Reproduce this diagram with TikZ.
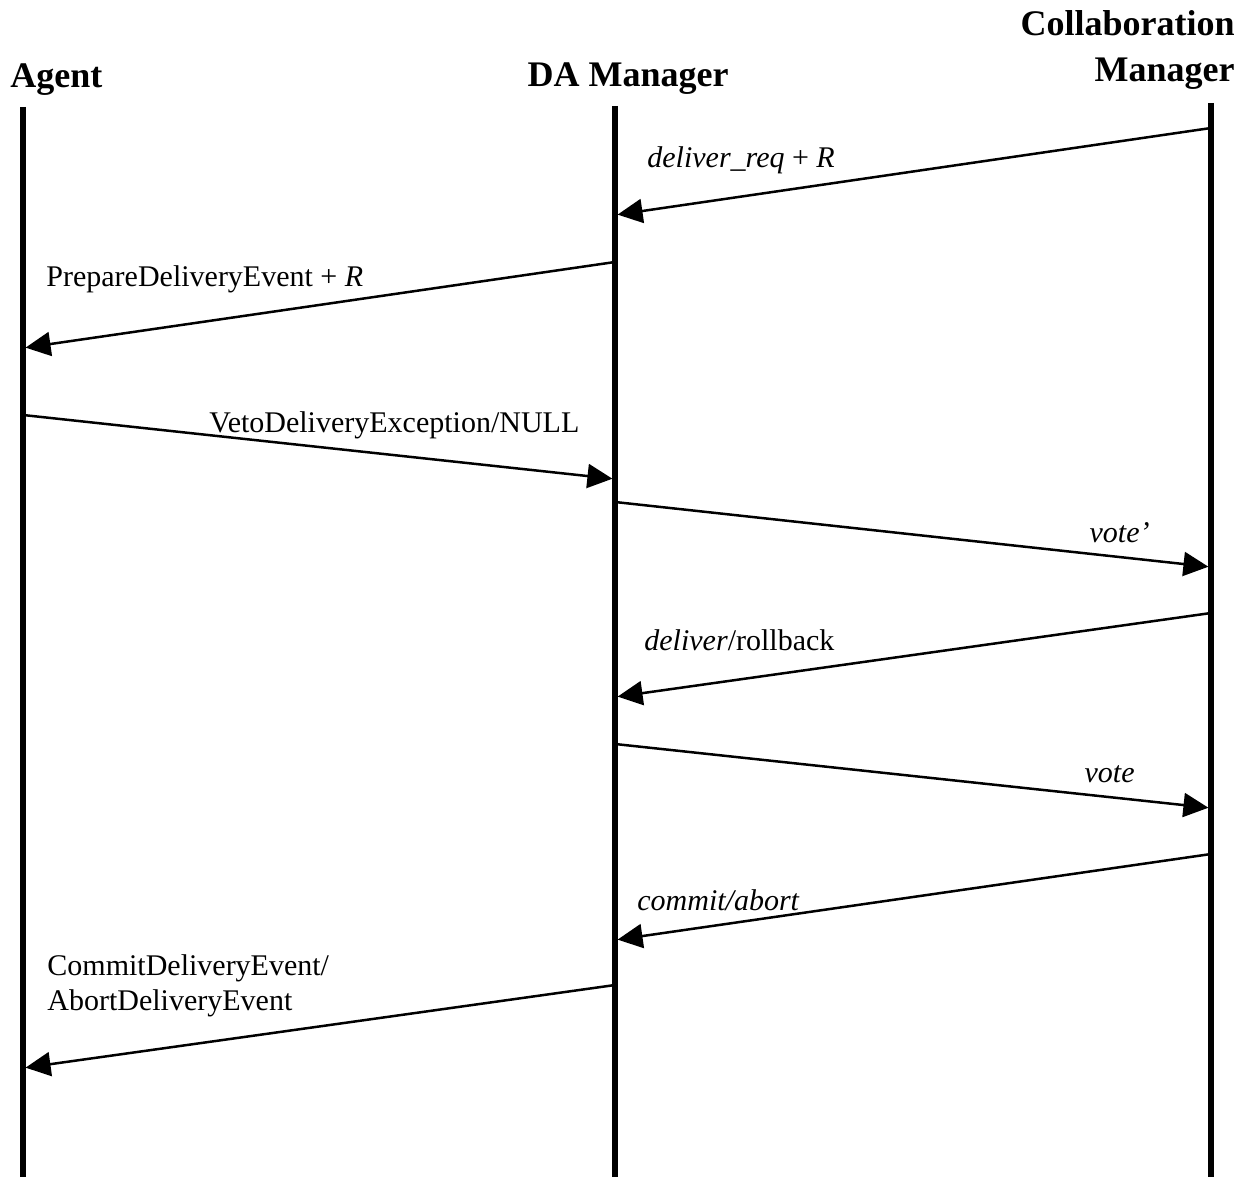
\documentclass[tikz,border=0pt]{standalone}
\usepackage{fontspec}
\setmainfont{Liberation Serif}
\usetikzlibrary{arrows.meta}
\begin{document}
\begin{tikzpicture}[x=0.5pt,y=-0.5pt,
  lifeline/.style={line width=2.7pt},
  msg/.style={line width=1.25pt,-{Triangle[length=12.5pt,width=12pt]},shorten >=1.3pt,shorten <=1.3pt},
  actor/.style={font=\fontsize{18}{21}\selectfont\bfseries,inner sep=0pt},
  lbl/.style={font=\fontsize{15}{17.5}\selectfont,inner sep=0pt}]
\path[use as bounding box] (0,0) rectangle (1252,1177);

% participants
\node[actor,anchor=base west] (agentH) at (10,88) {Agent};
\node[actor,anchor=base] (daH) at (628,87) {DA Manager};
\node[actor,anchor=base east,align=right] (cmH1) at (1235,36) {Collaboration};
\node[actor,anchor=base east] (cmH2) at (1235,82) {Manager};

% lifelines
\coordinate (agT) at (23,107);  \coordinate (agB) at (23,1177);
\coordinate (daT) at (615,106); \coordinate (daB) at (615,1177);
\coordinate (cmT) at (1211,103); \coordinate (cmB) at (1211,1177);
\draw[lifeline] (agT) -- (agB);
\draw[lifeline] (daT) -- (daB);
\draw[lifeline] (cmT) -- (cmB);

% message end points on the lifelines
\coordinate (m1s) at (1211,128); \coordinate (m1e) at (615,215);
\coordinate (m2s) at (615,262);  \coordinate (m2e) at (23,348);
\coordinate (m3s) at (23,415);   \coordinate (m3e) at (615,479);
\coordinate (m4s) at (615,502);  \coordinate (m4e) at (1211,567);
\coordinate (m5s) at (1211,613); \coordinate (m5e) at (615,697);
\coordinate (m6s) at (615,744);  \coordinate (m6e) at (1211,808);
\coordinate (m7s) at (1211,854); \coordinate (m7e) at (615,940);
\coordinate (m8s) at (615,985);  \coordinate (m8e) at (23,1068);

% messages
\draw[msg] (m1s) -- (m1e);
\draw[msg] (m2s) -- (m2e);
\draw[msg] (m3s) -- (m3e);
\draw[msg] (m4s) -- (m4e);
\draw[msg] (m5s) -- (m5e);
\draw[msg] (m6s) -- (m6e);
\draw[msg] (m7s) -- (m7e);
\draw[msg] (m8s) -- (m8e);

% message labels
\node[lbl,anchor=base west] (l1) at (647,167) {\textit{deliver\_req} + \textit{R}};
\node[lbl,anchor=base west] (l2) at (46,286) {PrepareDeliveryEvent + \textit{R}};
\node[lbl,anchor=base west] (l3) at (209,432) {VetoDeliveryException/NULL};
\node[lbl,anchor=base east] (l4) at (1150,542) {\textit{vote’}};
\node[lbl,anchor=base west] (l5) at (644,650) {\textit{deliver}/rollback};
\node[lbl,anchor=base east] (l6) at (1135,782) {\textit{vote}};
\node[lbl,anchor=base west] (l7) at (637,910) {\textit{commit/abort}};
\node[lbl,anchor=base west] (l8a) at (47,975) {CommitDeliveryEvent/};
\node[lbl,anchor=base west] (l8b) at (47,1010) {AbortDeliveryEvent};
\end{tikzpicture}
\end{document}
